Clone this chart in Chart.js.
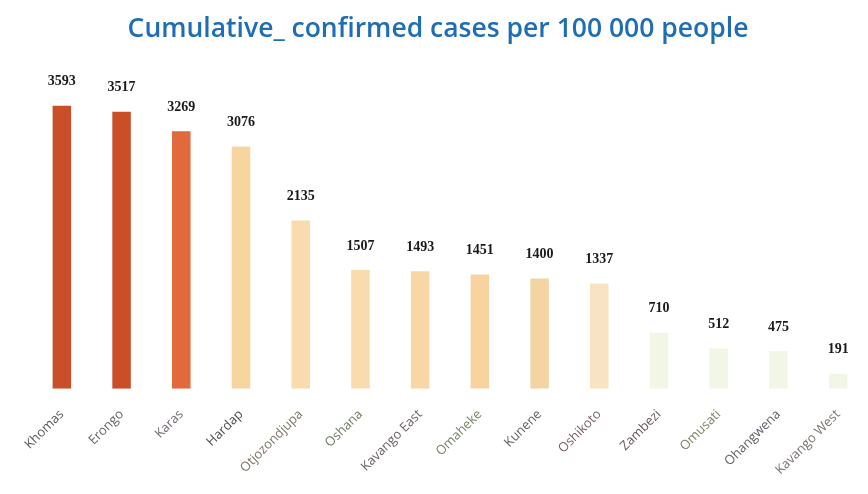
<!DOCTYPE html>
<html>
<head>
<meta charset="utf-8">
<script src="https://cdn.jsdelivr.net/npm/chart.js@4.4.1/dist/chart.umd.min.js"></script>
<style>
  html, body { margin: 0; padding: 0; background: #ffffff; }
  #wrap { width: 868px; height: 494px; position: relative; }
</style>
</head>
<body>
<div id="wrap"><canvas id="chart"></canvas></div>
<script>
// regions, sorted by cases
const regions = ["Khomas", "Erongo", "Karas", "Hardap", "Otjozondjupa", "Oshana", "Kavango East",
    "Omaheke", "Kunene", "Oshikoto", "Zambezi", "Omusati", "Ohangwena", "Kavango West"];

// cumulative confirmed cases per 100 000 people
const casesPer100k = [3593, 3517, 3269, 3076, 2135, 1507, 1493, 1451, 1400, 1337, 710, 512, 475, 191];

const barColors = ["#c84f27", "#c84f27", "#e2693c", "#f7d59f", "#f8dcad", "#f8dcad", "#f8d7a6",
    "#f7d49f", "#f5d4a4", "#f8e4c2", "#f1f6e6", "#f1f6e6", "#f1f6e6", "#f1f6e6"];

const tickColors = ["#5e5860", "#6a6266", "#746a74", "#4e4a4c", "#7a7464", "#6f7a62", "#6a6266",
    "#7a8468", "#5e6066", "#7a6468", "#6a5660", "#7a8468", "#606068", "#7a7470"];

// value labels above bars
const valueLabels = {
    id: "valueLabels",
    afterDatasetsDraw(chart) {
        const ctx = chart.ctx;
        const meta = chart.getDatasetMeta(0);
        ctx.save();
        ctx.font = "bold 14px 'Liberation Serif'";
        ctx.fillStyle = "#1a1a1a";
        ctx.textAlign = "center";
        ctx.textBaseline = "middle";
        meta.data.forEach((bar, i) => {
            ctx.fillText(casesPer100k[i], bar.x, bar.y - 24);
        });
        ctx.restore();
    }
};

new Chart(document.getElementById("chart"), {
    type: "bar",
    data: {
        labels: regions,
        datasets: [{
            data: casesPer100k,
            backgroundColor: barColors,
            borderWidth: 0,
            categoryPercentage: 1,
            barPercentage: 0.31
        }]
    },
    options: {
        responsive: true,
        maintainAspectRatio: false,
        animation: false,
        layout: { padding: { left: 8, right: 0, top: 0, bottom: 6 } },
        plugins: {
            legend: { display: false },
            tooltip: { enabled: false },
            title: {
                display: true,
                text: "Cumulative_ confirmed cases per 100 000 people",
                color: "#1f6db3",
                font: { family: "'Open Sans'", size: 26.5, weight: "600" },
                padding: { top: 14, bottom: 28 }
            }
        },
        scales: {
            x: {
                grid: { display: false },
                border: { display: false },
                ticks: {
                    color: tickColors,
                    font: { family: "'Open Sans'", size: 13 },
                    minRotation: 45,
                    maxRotation: 45,
                    padding: 10
                }
            },
            y: {
                min: 0,
                max: 4000,
                grid: { display: false },
                border: { display: false },
                ticks: { display: false },
                afterFit(scale) { scale.width = 24; }
            }
        }
    },
    plugins: [valueLabels]
});
</script>
</body>
</html>
